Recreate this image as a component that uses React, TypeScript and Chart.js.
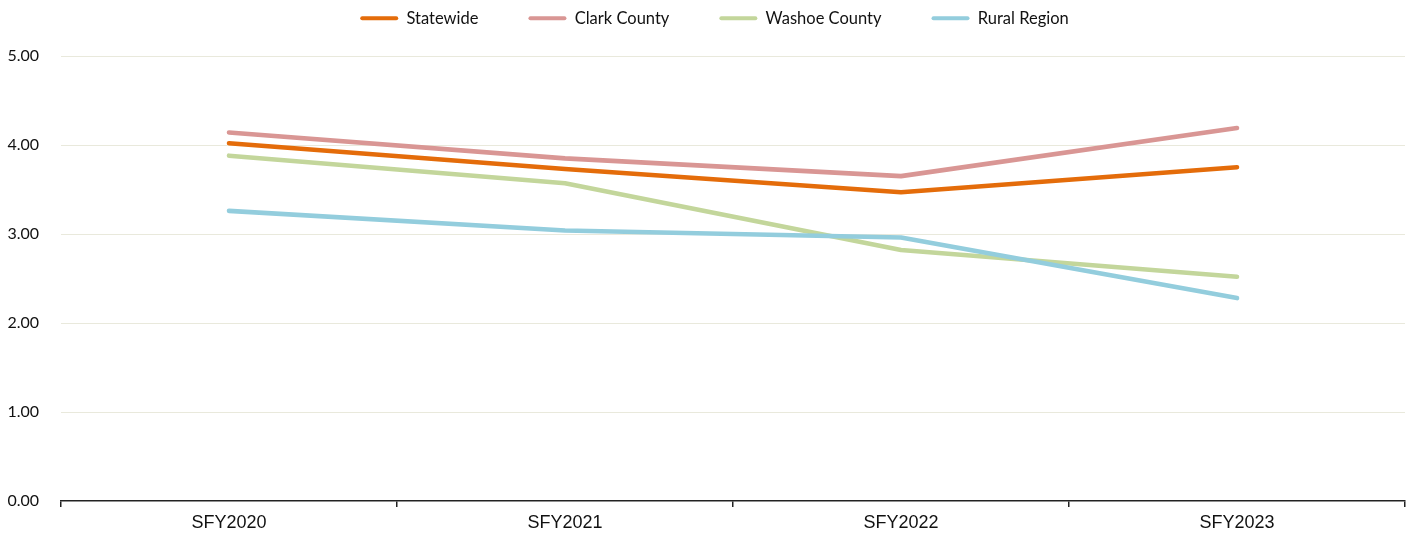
import React, { useEffect, useRef } from "react";
import { Chart, registerables } from "chart.js";

Chart.register(...registerables);

const categories = ["SFY2020", "SFY2021", "SFY2022", "SFY2023"];
const statewide = [4.02, 3.73, 3.47, 3.75];
const clarkCounty = [4.14, 3.85, 3.65, 4.19];
const washoeCounty = [3.88, 3.57, 2.82, 2.52];
const ruralRegion = [3.26, 3.04, 2.96, 2.28];
const yTicks = [0, 1, 2, 3, 4, 5];

const legendHeightPlugin = {
  id: "legendHeight",
  beforeInit(chart: any) {
    const legend = chart.legend;
    if (!legend) return;
    const fit = legend.fit;
    legend.fit = function () {
      fit.call(this);
      this.height = 96;
    };
  },
  afterLayout(chart: any) {
    const legend = chart.legend;
    if (!legend) return;
    legend.left += 12;
    legend.right += 12;
  },
};

export default function App() {
  const ref = useRef<HTMLCanvasElement | null>(null);

  useEffect(() => {
    document.body.style.margin = "0";
    const canvas = ref.current;
    if (!canvas) return;
    const mk = (label: string, data: number[], color: string, order: number) => ({
      label,
      data,
      borderColor: color,
      backgroundColor: color,
      borderWidth: 4.6,
      pointRadius: 0,
      pointHoverRadius: 0,
      tension: 0,
      borderCapStyle: "round" as const,
      borderJoinStyle: "round" as const,
      fill: false,
      order,
    });
    const chart = new Chart(canvas, {
      type: "line",
      data: {
        labels: categories,
        datasets: [
          mk("Statewide", statewide, "#e46c0a", 3),
          mk("Clark County", clarkCounty, "#d99694", 4),
          mk("Washoe County", washoeCounty, "#c3d69b", 2),
          mk("Rural Region", ruralRegion, "#93cddd", 1),
        ],
      },
      options: {
        animation: false,
        responsive: true,
        maintainAspectRatio: false,
        layout: { padding: { top: -40, right: 14, bottom: 0, left: 0 } },
        plugins: {
          tooltip: { enabled: false },
          legend: {
            position: "top",
            align: "center",
            labels: {
              boxWidth: 38,
              boxHeight: 4,
              padding: 50,
              color: "#111",
              font: { family: "Lato, 'Noto Sans', sans-serif", size: 16.5 },
              sort: (a: any, b: any) => a.datasetIndex - b.datasetIndex,
              generateLabels: (chart: any) =>
                (Chart.defaults.plugins.legend.labels.generateLabels as any)(chart).map((l: any) => ({
                  ...l,
                  lineWidth: 0,
                  borderRadius: 2,
                })),
            },
          },
        },
        scales: {
          x: {
            type: "category",
            offset: true,
            grid: {
              offset: true,
              drawOnChartArea: false,
              drawTicks: true,
              tickLength: 6,
              color: "#222",
              lineWidth: 1.5,
            },
            border: { display: true, color: "#222", width: 1.5 },
            ticks: {
              color: "#111",
              padding: 5,
              font: { family: "'Liberation Sans', Arial, sans-serif", size: 18 },
              maxRotation: 0,
            },
            afterFit: (s: any) => {
              s.height = 37;
            },
          },
          y: {
            min: 0,
            max: 5,
            afterBuildTicks: (s: any) => {
              s.ticks = yTicks.map((v) => ({ value: v }));
            },
            grid: {
              drawTicks: false,
              color: (c: any) => (c.tick && c.tick.value === 0 ? "rgba(0,0,0,0)" : "#e9e9dc"),
              lineWidth: 1,
            },
            border: { display: false },
            ticks: {
              padding: 22,
              color: "#111",
              font: { family: "Lato, 'Noto Sans', sans-serif", size: 16 },
              callback: (v: any) => Number(v).toFixed(2),
            },
            afterFit: (s: any) => {
              s.width = 61;
            },
          },
        },
      },
      plugins: [legendHeightPlugin],
    });
    return () => chart.destroy();
  }, []);

  return (
    <div style={{ position: "absolute", left: 0, top: 0, width: 1419, height: 538 }}>
      <canvas ref={ref} />
    </div>
  );
}
